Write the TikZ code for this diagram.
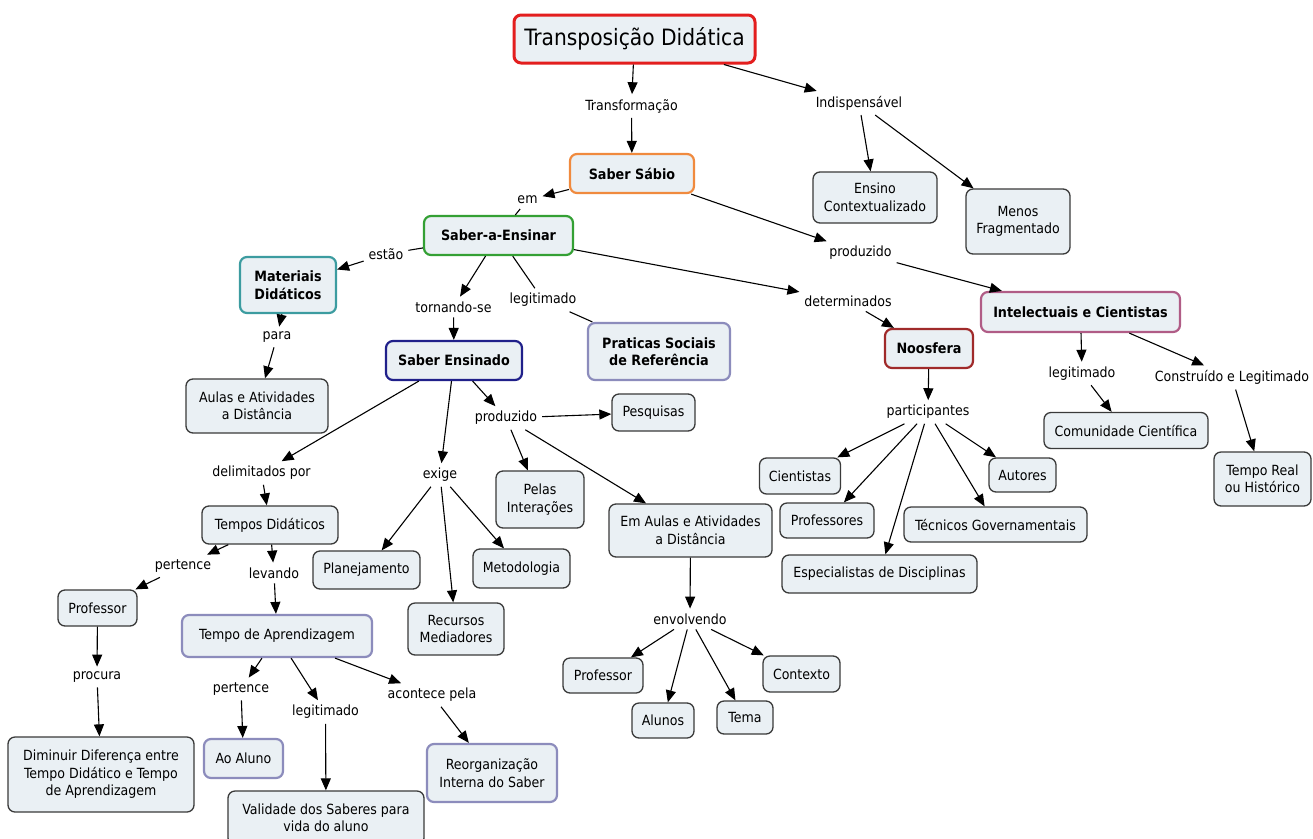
\documentclass[tikz,border=0pt]{standalone}
\usepackage{fontspec}
\setmainfont{DejaVu Sans Condensed}
\usetikzlibrary{arrows.meta}
\definecolor{bfill}{HTML}{EAF0F4}
\definecolor{bline}{HTML}{3A3A3A}
\definecolor{cred}{HTML}{E31E1E}
\definecolor{corange}{HTML}{F08A3E}
\definecolor{cgreen}{HTML}{34A034}
\definecolor{cteal}{HTML}{3C9CA0}
\definecolor{cnavy}{HTML}{20208A}
\definecolor{clav}{HTML}{8C8CBC}
\definecolor{cpink}{HTML}{B05C86}
\definecolor{cdred}{HTML}{A02A2A}
\begin{document}
\begin{tikzpicture}[x=1pt,y=-1pt,
  base/.style={font=\fontsize{14}{17.5}\selectfont},
  concept/.style={base, draw=bline, line width=1.3pt, fill=bfill, rounded corners=7pt, align=center, inner sep=2pt},
  bfnode/.style={font=\fontsize{14.2}{17.5}\selectfont\bfseries},
  hl/.style={line width=2.2pt, draw=#1},
  lbl/.style={base, inner sep=3pt, outer sep=2pt},
  wh/.style 2 args={minimum width=#1pt, minimum height=#2pt},
  arr/.style={draw=black, line width=1.1pt, -{Triangle[length=12pt,width=10pt]}},
  ln/.style={draw=black, line width=1.1pt}]
\useasboundingbox (0,0) rectangle (1313,838);
\fill[white] (0,0) rectangle (1313,838);

% concepts
\node[concept, wh={241}{48}, line width=3pt, draw=cred, font=\fontsize{22.5}{26}\selectfont] (td) at (634.5,39) {Transposição Didática};
\node[concept, wh={124}{39}, bfnode, hl=corange] (ss) at (632,173.5) {Saber Sábio};
\node[concept, wh={124}{51}] (ensino) at (875,197.5) {Ensino\\Contextualizado};
\node[concept, wh={104}{65}] (menos) at (1018,221.5) {Menos\\Fragmentado};
\node[concept, wh={149}{39}, bfnode, hl=cgreen] (sae) at (498.5,235.5) {Saber-a-Ensinar};
\node[concept, wh={96}{56}, bfnode, hl=cteal] (mat) at (288,285) {Materiais\\Didáticos};
\node[concept, wh={199}{40}, bfnode, hl=cpink] (intel) at (1080.5,312) {Intelectuais e Cientistas};
\node[concept, wh={88}{39}, bfnode, hl=cdred] (noos) at (929,348.5) {Noosfera};
\node[concept, wh={142}{57}, bfnode, hl=clav] (prat) at (659,351.5) {Praticas Sociais\\de Referência};
\node[concept, wh={142}{54}] (aulas) at (257,406) {Aulas e Atividades\\a Distância};
\node[concept, wh={136}{39}, bfnode, hl=cnavy] (sen) at (454,360.5) {Saber Ensinado};
\node[concept, wh={83}{37}] (pesq) at (653.5,412.5) {Pesquisas};
\node[concept, wh={88}{57}] (pelas) at (540,499.5) {Pelas\\Interações};
\node[concept, wh={163}{53}] (emaulas) at (690.5,530.5) {Em Aulas e Atividades\\a Distância};
\node[concept, wh={136}{38}] (tempos) at (270,525) {Tempos Didáticos};
\node[concept, wh={107}{38}] (plan) at (366.5,570) {Planejamento};
\node[concept, wh={97}{39}] (metod) at (521.5,568.5) {Metodologia};
\node[concept, wh={96}{52}] (recur) at (456,629) {Recursos\\Mediadores};
\node[concept, wh={79}{36}] (prof1) at (97.5,608) {Professor};
\node[concept, wh={190}{42}, hl=clav] (tda) at (277,636) {Tempo de Aprendizagem};
\node[concept, wh={186}{75}] (dimin) at (101,774.5) {Diminuir Diferença entre\\Tempo Didático e Tempo\\de Aprendizagem};
\node[concept, wh={79}{39}, hl=clav] (aoaluno) at (243.5,758.5) {Ao Aluno};
\node[concept, wh={196}{54}] (valid) at (326,818) {Validade dos Saberes para\\vida do aluno};
\node[concept, wh={130}{58}, hl=clav] (reorg) at (492,773) {Reorganização\\Interna do Saber};
\node[concept, wh={80}{35}] (prof2) at (603,675.5) {Professor};
\node[concept, wh={62}{35}] (alunos) at (663,720.5) {Alunos};
\node[concept, wh={56}{33}] (tema) at (745,717.5) {Tema};
\node[concept, wh={77}{36}] (contexto) at (801.5,674) {Contexto};
\node[concept, wh={81}{36}] (cient) at (800,476) {Cientistas};
\node[concept, wh={94}{35}] (profs) at (827,520.5) {Professores};
\node[concept, wh={195}{38}] (espec) at (879.5,574) {Especialistas de Disciplinas};
\node[concept, wh={183}{35}] (tecn) at (995.5,524.5) {Técnicos Governamentais};
\node[concept, wh={67}{34}] (autores) at (1022.5,475) {Autores};
\node[concept, wh={164}{36}] (comun) at (1126,430.5) {Comunidade Científica};
\node[concept, wh={97}{54}] (treal) at (1262.5,479) {Tempo Real\\ou Histórico};

% linking phrases
\node[lbl] (transf) at (631.5,106) {Transformação};
\node[lbl] (indisp) at (859,103) {Indispensável};
\node[lbl] (em) at (527.5,200) {em};
\node[lbl] (estao) at (386,254) {estão};
\node[lbl] (prod1) at (860.5,253) {produzido};
\node[lbl] (det) at (848,301) {determinados};
\node[lbl] (torn) at (453.5,307) {tornando-se};
\node[lbl] (leg1) at (543,300) {legitimado};
\node[lbl] (para) at (277,337) {para};
\node[lbl] (prod2) at (506,418) {produzido};
\node[lbl] (delim) at (261.5,473) {delimitados por};
\node[lbl] (exige) at (440,475) {exige};
\node[lbl] (pert1) at (183,566) {pertence};
\node[lbl] (lev) at (274,573) {levando};
\node[lbl] (procura) at (97,677) {procura};
\node[lbl] (pert2) at (241,689) {pertence};
\node[lbl] (leg2) at (325.5,712) {legitimado};
\node[lbl] (acont) at (432,695) {acontece pela};
\node[lbl] (envol) at (690,619) {envolvendo};
\node[lbl] (partic) at (928,412) {participantes};
\node[lbl] (leg3) at (1082,373.5) {legitimado};
\node[lbl] (constr) at (1232,377.5) {Construído e Legitimado};

% connectors
\draw[arr] (td) -- (transf);
\draw[arr] (transf) -- (ss);
\draw[arr] (td) -- (indisp);
\draw[arr] (indisp) -- (ensino);
\draw[arr] (indisp) -- (menos);
\draw[arr] (ss) -- (em);
\draw[ln] (em) -- (sae);
\draw[arr] (ss) -- (prod1);
\draw[arr] (prod1) -- (intel);
\draw[ln] (sae) -- (estao);
\draw[arr] (estao) -- (mat);
\draw[arr] (sae) -- (torn);
\draw[arr] (torn) -- (sen);
\draw[ln] (sae) -- (leg1);
\draw[ln] (leg1) -- (prat);
\draw[arr] (sae) -- (det);
\draw[arr] (det) -- (noos);
\draw[arr] (mat) -- (para);
\draw[arr] (para) -- (aulas);
\draw[arr] (sen) -- (delim);
\draw[arr] (delim) -- (tempos);
\draw[arr] (sen) -- (exige);
\draw[arr] (exige) -- (plan);
\draw[arr] (exige) -- (recur);
\draw[arr] (exige) -- (metod);
\draw[arr] (sen) -- (prod2);
\draw[arr] (prod2) -- (pesq);
\draw[arr] (prod2) -- (pelas);
\draw[arr] (prod2) -- (emaulas);
\draw[arr] (tempos) -- (pert1);
\draw[arr] (pert1) -- (prof1);
\draw[arr] (tempos) -- (lev);
\draw[arr] (lev) -- (tda);
\draw[arr] (prof1) -- (procura);
\draw[arr] (procura) -- (dimin);
\draw[arr] (tda) -- (pert2);
\draw[arr] (pert2) -- (aoaluno);
\draw[arr] (tda) -- (leg2);
\draw[arr] (leg2) -- (valid);
\draw[arr] (tda) -- (acont);
\draw[arr] (acont) -- (reorg);
\draw[arr] (emaulas) -- (envol);
\draw[arr] (envol) -- (prof2);
\draw[arr] (envol) -- (alunos);
\draw[arr] (envol) -- (tema);
\draw[arr] (envol) -- (contexto);
\draw[arr] (noos) -- (partic);
\draw[arr] (partic) -- (cient);
\draw[arr] (partic) -- (profs);
\draw[arr] (partic) -- (espec);
\draw[arr] (partic) -- (tecn);
\draw[arr] (partic) -- (autores);
\draw[arr] (intel) -- (leg3);
\draw[arr] (leg3) -- (comun);
\draw[arr] (intel) -- (constr);
\draw[arr] (constr) -- (treal);
\end{tikzpicture}
\end{document}
